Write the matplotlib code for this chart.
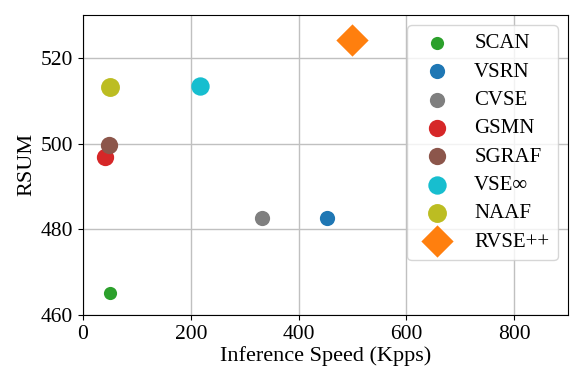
import matplotlib
matplotlib.use("Agg")
import matplotlib.pyplot as plt

plt.rcParams['font.family'] = ['Liberation Serif', 'DejaVu Serif']
plt.rcParams['mathtext.fontset'] = 'stix'

methods = ["SCAN", "VSRN", "CVSE", "GSMN", "SGRAF", "VSE∞", "NAAF", "RVSE++"]
speed = [50, 453, 333, 40, 48, 218, 50, 500]
rsum = [465.0, 482.6, 482.5, 496.8, 499.6, 513.4, 513.2, 524.2]
colors = ["tab:green", "tab:blue", "tab:gray", "tab:red", "tab:brown", "tab:cyan", "tab:olive", "tab:orange"]
markers = ["o", "o", "o", "o", "o", "o", "o", "D"]
sizes = [90, 120, 120, 155, 155, 175, 185, 270]

fig = plt.figure(figsize=(5.82, 3.84), dpi=100)
ax = fig.add_axes([0.1426, 0.180, 0.976 - 0.1426, 0.961 - 0.180])

for m, x, y, c, mk, s in zip(methods, speed, rsum, colors, markers, sizes):
    ax.scatter([x], [y], s=s, c=c, marker=mk, label=m, zorder=3, linewidths=0)

ax.set_xlim(0, 900)
ax.set_ylim(460, 530)
ax.set_xticks([0, 200, 400, 600, 800])
ax.set_yticks([460, 480, 500, 520])
ax.grid(True, color="#c0c0c0", linewidth=1.0, zorder=0)
ax.set_axisbelow(True)
ax.tick_params(labelsize=15.5)
ax.set_xlabel("Inference Speed (Kpps)", fontsize=16, labelpad=2)
ax.set_ylabel("RSUM", fontsize=16, labelpad=3)
ax.legend(loc="upper right", fontsize=15, labelspacing=0.42, handletextpad=0.8)

fig.savefig("out.png", dpi=100)
